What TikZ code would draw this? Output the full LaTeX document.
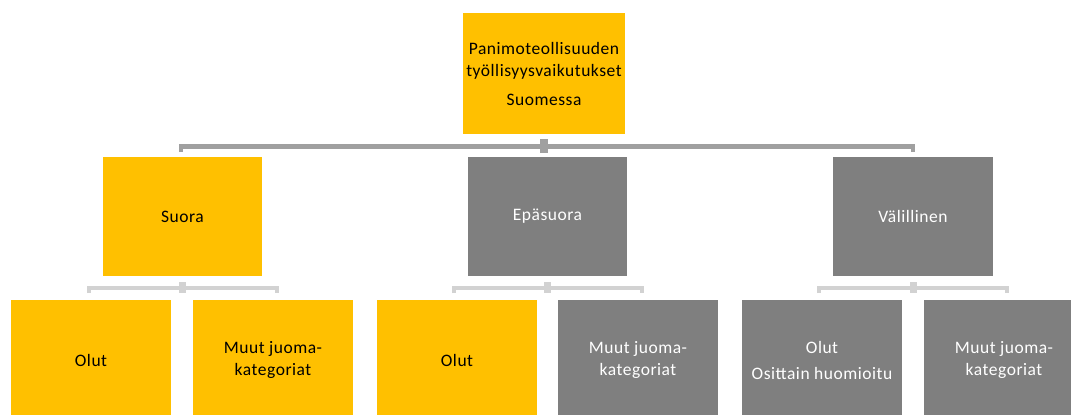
\documentclass[tikz,border=0pt]{standalone}
\usepackage{fontspec}
\setmainfont{Carlito}[LetterSpace=3]
\definecolor{yel}{HTML}{FFC000}
\definecolor{gr}{HTML}{7F7F7F}
\definecolor{lineA}{HTML}{A0A0A0}
\definecolor{lineB}{HTML}{D2D2D2}
\begin{document}
\begin{tikzpicture}[x=1pt,y=-1pt,
  box/.style={rectangle,inner sep=0pt,align=center,font=\fontsize{17.5}{22}\selectfont},
  ybox/.style={box,fill=yel,text=black},
  gbox/.style={box,fill=gr,text=white},
  brA/.style={draw=lineA,line width=4.5pt},
  brB/.style={draw=lineB,line width=4pt}]
\useasboundingbox (0,0) rectangle (1071,415);
% boxes
\node[ybox,minimum width=162pt,minimum height=121pt] (top) at (544,73.5) {Panimoteollisuuden\\työllisyysvaikutukset\\[7pt]Suomessa};
\node[ybox,minimum width=159pt,minimum height=119pt] (s) at (182.5,216.5) {Suora};
\node[gbox,minimum width=159pt,minimum height=119pt] (e) at (547.5,216.5) {Epäsuora};
\node[gbox,minimum width=160pt,minimum height=119pt] (v) at (913,216.5) {Välillinen};
\node[ybox,minimum width=160pt,minimum height=120pt] (s1) at (91,360) {Olut};
\node[ybox,minimum width=160pt,minimum height=120pt] (s2) at (273,360) {Muut juoma-\\kategoriat};
\node[ybox,minimum width=160pt,minimum height=120pt] (e1) at (457,360) {Olut};
\node[gbox,minimum width=160pt,minimum height=120pt] (e2) at (638,360) {Muut juoma-\\kategoriat};
\node[gbox,minimum width=160pt,minimum height=120pt] (v1) at (822,360) {Olut\\[4pt]Osittain huomioitu};
\node[gbox,minimum width=160pt,minimum height=120pt] (v2) at (1004,360) {Muut juoma-\\kategoriat};
% top bracket
\draw[brA] ([xshift=-1.5pt]s.north |- 0,152) -- ([xshift=-1.5pt]s.north |- 0,146.5) -- (v.north |- 0,146.5) -- (v.north |- 0,152);
\draw[draw=lineA,line width=8pt] (top.south |- 0,139) -- (top.south |- 0,153);
% lower brackets
\foreach \p in {s, e, v}{
  \draw[brB,line width=7pt] (\p.south |- 0,282) -- (\p.south |- 0,293);
  \draw[brB] ([xshift=-94pt]\p.south |- 0,293) -- ([xshift=-94pt]\p.south |- 0,288) -- ([xshift=94pt]\p.south |- 0,288) -- ([xshift=94pt]\p.south |- 0,293);
}
\end{tikzpicture}
\end{document}
